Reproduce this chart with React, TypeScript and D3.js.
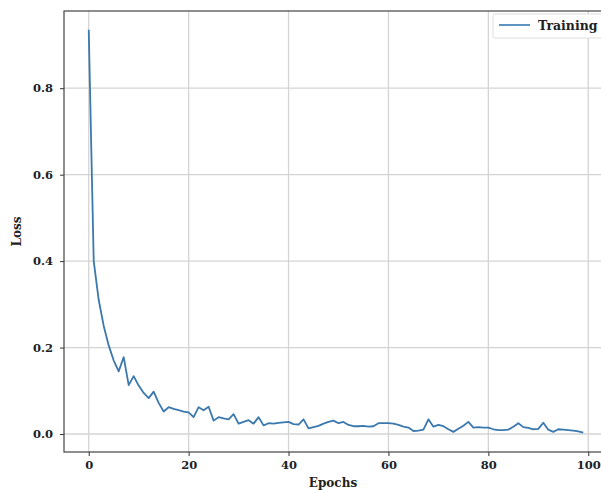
import React, { useRef, useEffect } from "react";
import * as d3 from "d3";

// training loss per epoch
const epochs = d3.range(0, 100);
const trainingLoss = [
  0.935, 0.40, 0.31, 0.25, 0.205, 0.17, 0.145, 0.178, 0.113, 0.134,
  0.112, 0.095, 0.083, 0.098, 0.072, 0.052, 0.062, 0.058, 0.055, 0.052,
  0.05, 0.039, 0.062, 0.055, 0.063, 0.031, 0.039, 0.036, 0.034, 0.046,
  0.024, 0.028, 0.032, 0.024, 0.039, 0.02, 0.025, 0.024, 0.026, 0.027,
  0.028, 0.023, 0.022, 0.034, 0.013, 0.016, 0.019, 0.024, 0.028, 0.031,
  0.025, 0.028, 0.021, 0.018, 0.018, 0.019, 0.017, 0.018, 0.025, 0.025,
  0.025, 0.024, 0.021, 0.017, 0.015, 0.007, 0.008, 0.01, 0.034, 0.017,
  0.021, 0.018, 0.011, 0.005, 0.012, 0.019, 0.028, 0.015, 0.016, 0.015,
  0.015, 0.011, 0.009, 0.009, 0.01, 0.017, 0.025, 0.016, 0.014, 0.011,
  0.012, 0.026, 0.01, 0.005, 0.011, 0.01, 0.009, 0.008, 0.006, 0.003,
];
const xTicks = [0, 20, 40, 60, 80, 100];
const yTicks = [0, 0.2, 0.4, 0.6, 0.8];
const seriesName = "Training";

export default function App() {
  const ref = useRef<SVGSVGElement>(null);

  useEffect(() => {
    const svg = d3.select(ref.current);
    svg.selectAll("*").remove();

    const width = 601;
    const height = 490;
    const m = { left: 64, top: 11, right: 608, bottom: 452 };
    const font = "'DejaVu Serif', serif";

    const x = d3.scaleLinear().domain([-4.95, 103.95]).range([m.left, m.right]);
    const y = d3.scaleLinear().domain([-0.0416, 0.9786]).range([m.bottom, m.top]);

    svg.append("rect").attr("width", width).attr("height", height).attr("fill", "#fff");

    // grid
    const grid = svg.append("g").attr("stroke", "#d4d4d4").attr("stroke-width", 1.3);
    xTicks.forEach((t) => {
      grid.append("line")
        .attr("x1", x(t)).attr("x2", x(t))
        .attr("y1", m.top).attr("y2", m.bottom);
    });
    yTicks.forEach((t) => {
      grid.append("line")
        .attr("x1", m.left).attr("x2", m.right)
        .attr("y1", y(t)).attr("y2", y(t));
    });

    // axes
    const xAxis = svg.append("g")
      .attr("transform", `translate(0,${m.bottom})`)
      .call(d3.axisBottom(x).tickValues(xTicks).tickSize(4).tickPadding(5).tickFormat(d3.format("d")));
    const yAxis = svg.append("g")
      .attr("transform", `translate(${m.left},0)`)
      .call(d3.axisLeft(y).tickValues(yTicks).tickSize(4).tickPadding(7).tickFormat(d3.format(".1f")));
    [xAxis, yAxis].forEach((a) => {
      a.select(".domain").remove();
      a.selectAll("line").attr("stroke", "#333");
      a.selectAll("text")
        .attr("fill", "#222")
        .attr("font-family", font)
        .attr("font-weight", "bold")
        .attr("font-size", 11.5);
    });

    // frame
    svg.append("rect")
      .attr("x", m.left).attr("y", m.top)
      .attr("width", m.right - m.left).attr("height", m.bottom - m.top)
      .attr("fill", "none").attr("stroke", "#444").attr("stroke-width", 1.2);

    // line
    const line = d3.line<number>()
      .x((_, i) => x(epochs[i]))
      .y((d) => y(d));
    svg.append("path")
      .datum(trainingLoss)
      .attr("d", line)
      .attr("fill", "none")
      .attr("stroke", "#3b78ae")
      .attr("stroke-width", 1.8)
      .attr("stroke-linejoin", "round");

    // axis titles
    svg.append("text")
      .attr("x", (m.left + m.right) / 2 - 3).attr("y", 487)
      .attr("text-anchor", "middle")
      .attr("font-family", font).attr("font-weight", "bold").attr("font-size", 12)
      .attr("fill", "#222")
      .text("Epochs");
    svg.append("text")
      .attr("transform", `translate(21,${(m.top + m.bottom) / 2}) rotate(-90)`)
      .attr("text-anchor", "middle")
      .attr("font-family", font).attr("font-weight", "bold").attr("font-size", 12)
      .attr("fill", "#222")
      .text("Loss");

    // legend
    const lg = svg.append("g").attr("transform", "translate(493,14)");
    lg.append("rect")
      .attr("width", 130).attr("height", 24).attr("rx", 2)
      .attr("fill", "#fff").attr("stroke", "#ddd");
    lg.append("line")
      .attr("x1", 6).attr("x2", 37).attr("y1", 11).attr("y2", 11)
      .attr("stroke", "#5b93c2").attr("stroke-width", 2);
    lg.append("text")
      .attr("x", 45).attr("y", 15.5)
      .attr("font-family", font).attr("font-weight", "bold").attr("font-size", 12.5)
      .attr("fill", "#222")
      .text(seriesName);
  }, []);

  return (
    <svg
      ref={ref}
      width={601}
      height={490}
      style={{ position: "absolute", left: 0, top: 0 }}
    />
  );
}
